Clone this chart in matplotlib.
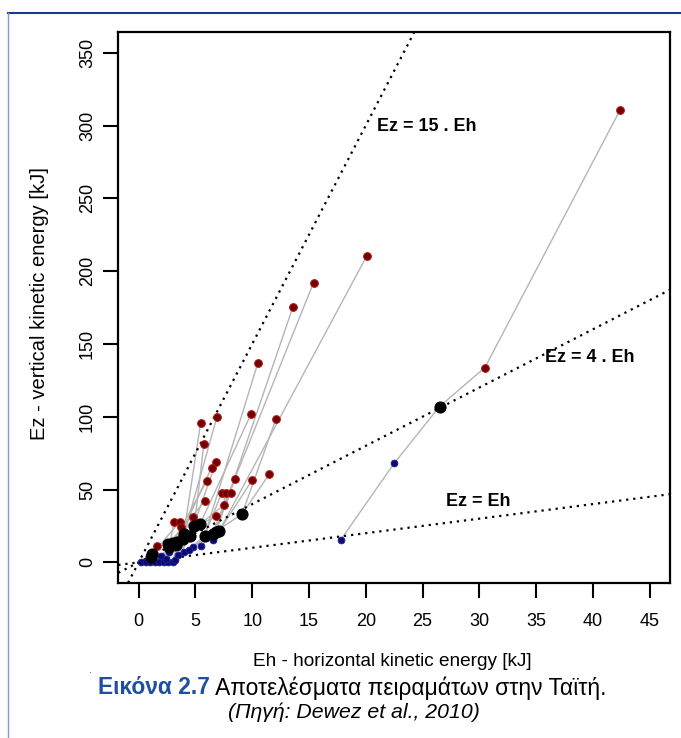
import matplotlib.pyplot as plt
from matplotlib.lines import Line2D

plt.rcParams['font.family'] = ['Liberation Sans', 'DejaVu Sans']

# measured points, grouped by class
red_pts = {
    "r0": (42.4, 310.6), "r1": (30.5, 133.8), "r2": (20.1, 210.6),
    "r3": (15.4, 192.1), "r4": (13.6, 175.7), "r5": (10.5, 137.0),
    "r6": (12.1, 98.7), "r7": (9.9, 101.9), "r8": (6.9, 100.1),
    "r9": (5.45, 95.5), "r10": (5.74, 81.6), "r11": (6.83, 69.2),
    "r12": (6.42, 65.1), "r13": (5.98, 55.7), "r14": (8.5, 57.1),
    "r15": (10.0, 56.6), "r16": (11.5, 60.5), "r17": (7.3, 47.5),
    "r18": (7.7, 47.8), "r19": (8.1, 47.5), "r20": (5.8, 41.8),
    "r21": (7.5, 39.3), "r22": (6.8, 31.9), "r23": (4.8, 31.3),
    "r24": (3.1, 27.8), "r25": (3.6, 27.8), "r26": (3.7, 24.0),
    "r27": (4.5, 18.2), "r28": (1.6, 11.4),
}
black_pts = {
    "k0": (26.5, 107.0), "k1": (9.1, 33.1), "k2": (5.4, 26.2),
    "k3": (4.9, 25.0), "k4": (7.1, 21.7), "k5": (6.5, 19.4),
    "k6": (5.8, 18.2), "k7": (4.5, 17.8), "k8": (3.9, 16.0),
    "k9": (3.4, 13.7), "k10": (3.0, 13.2), "k11": (2.6, 12.5),
    "k12": (2.7, 10.3), "k13": (1.2, 5.7), "k14": (1.1, 3.4),
    "k15": (4.0, 19.5), "k16": (6.8, 20.5), "k17": (3.3, 12.0),
}
blue_pts = {
    "u0": (17.8, 15.5), "u1": (22.5, 68.0), "u2": (6.5, 15.0),
    "u3": (4.8, 10.3), "u4": (4.0, 6.9), "u5": (2.7, 7.3),
    "u6": (2.0, 4.5), "u7": (0.2, 0.0), "u8": (0.6, 0.2),
    "u9": (1.0, 0.0), "u10": (1.4, 0.3), "u11": (1.8, 0.0),
    "u12": (2.2, 0.4), "u13": (2.6, 0.0), "u14": (3.0, 0.2),
    "u15": (3.2, 1.5), "u16": (2.4, 2.5), "u17": (3.5, 5.0),
    "u18": (5.5, 11.5), "u19": (4.4, 8.6),
}

# successive impacts of each block
chains = [
    ["u0", "u1", "k0", "r1", "r0"],
    ["u2", "k4", "r2"],
    ["u18", "k5", "r3"],
    ["u3", "k16", "r4"],
    ["u19", "k6", "r5"],
    ["u4", "k1", "r16"],
    ["k1", "r6"],
    ["u17", "k2", "r7"],
    ["u5", "k15", "r8"],
    ["u6", "k8", "r9"],
    ["u16", "k3", "r10"],
    ["u15", "k7", "r11"],
    ["u14", "k9", "r12"],
    ["u13", "k10", "r13"],
    ["k5", "r14"],
    ["k4", "r15"],
    ["k6", "r17"],
    ["k16", "r18"],
    ["k5", "r19"],
    ["u12", "k11", "r20"],
    ["k2", "r21"],
    ["k15", "r22"],
    ["u11", "k17", "r23"],
    ["u10", "k12", "r24"],
    ["u9", "k13", "r25"],
    ["k9", "r26"],
    ["k12", "r27"],
    ["u8", "k14", "r28"],
    ["u7", "k13"],
]

ratios = [15, 4, 1]
ratio_labels = ["Ez = 15 . Eh", "Ez = 4 . Eh", "Ez = Eh"]
label_pos = [(21.0, 299.5), (35.8, 140.7), (27.1, 41.5)]

x_ticks = list(range(0, 50, 5))
y_ticks = list(range(0, 400, 50))

all_pts = {**red_pts, **black_pts, **blue_pts}

fig = plt.figure(figsize=(6.81, 7.38), dpi=100)
ax = fig.add_axes([0.1737, 0.2104, 0.8101, 0.7458])
ax.set_xlim(-1.8, 46.8)
ax.set_ylim(-14, 364)

for chain in chains:
    xs = [all_pts[p][0] for p in chain]
    ys = [all_pts[p][1] for p in chain]
    ax.plot(xs, ys, color='#b5b5b5', lw=1.0, zorder=1)

xx = [-1.8, 46.8]
for r in ratios:
    ax.plot(xx, [r * v for v in xx], color='black', lw=1.6,
            linestyle=(0, (1, 2.2)), zorder=2)

for txt, (tx, ty) in zip(ratio_labels, label_pos):
    ax.text(tx, ty, txt, fontsize=12.9, fontweight='bold', va='center', ha='left')

ax.scatter([p[0] for p in red_pts.values()], [p[1] for p in red_pts.values()],
           s=30, color='#6e0000', edgecolors='#b01010', linewidths=0.8, zorder=3)
ax.scatter([p[0] for p in blue_pts.values()], [p[1] for p in blue_pts.values()],
           s=24, color='#0a0a70', edgecolors='#2020a0', linewidths=0.6, zorder=3)
ax.scatter([p[0] for p in black_pts.values()], [p[1] for p in black_pts.values()],
           s=60, color='black', zorder=4)

ax.set_xticks(x_ticks)
ax.set_yticks(y_ticks)
ax.tick_params(axis='both', length=11, width=1.5, labelsize=13, direction='out')
ax.tick_params(axis='x', pad=11)
ax.tick_params(axis='y', pad=5)
for lab in ax.get_yticklabels():
    lab.set_rotation(90)
    lab.set_va('center')
for s in ax.spines.values():
    s.set_linewidth(1.6)

fig.text(392 / 681, 1 - 662 / 738, "Eh - horizontal kinetic energy [kJ]",
         fontsize=13.7, ha='center', va='center')
fig.text(40 / 681, 1 - 304 / 738, "Ez - vertical kinetic energy [kJ]",
         fontsize=14.5, ha='center', va='center', rotation=90)

# caption: bold blue figure number + plain title
renderer = fig.canvas.get_renderer()
t1 = fig.text(0, 0, "Εικόνα 2.7", fontsize=16.4, fontweight='bold', color='#1f4fa0')
t2 = fig.text(0, 0, " Αποτελέσματα πειραμάτων στην Ταϊτή.", fontsize=16.4, color='black')
w1 = t1.get_window_extent(renderer).width
w2 = t2.get_window_extent(renderer).width
x0 = 352 - (w1 + w2) / 2
yc = 1 - 688 / 738
t1.set_position((x0 / 681, yc))
t2.set_position(((x0 + w1) / 681, yc))
t1.set_va('center')
t2.set_va('center')
fig.text(354 / 681, 1 - 712 / 738, "(Πηγή: Dewez et al., 2010)", fontsize=15.3,
         style='italic', ha='center', va='center')
fig.text(90 / 681, 1 - 670 / 738, ".", fontsize=8, color='#1f4fa0', ha='center', va='center')

# page frame
fig.add_artist(Line2D([8 / 681, 1], [1 - 13 / 738, 1 - 13 / 738], color='#1a3a8a', lw=1.5))
fig.add_artist(Line2D([8 / 681, 8 / 681], [0, 1 - 13 / 738], color='#7d9bd8', lw=1.0))

fig.savefig("out.png", dpi=100)
